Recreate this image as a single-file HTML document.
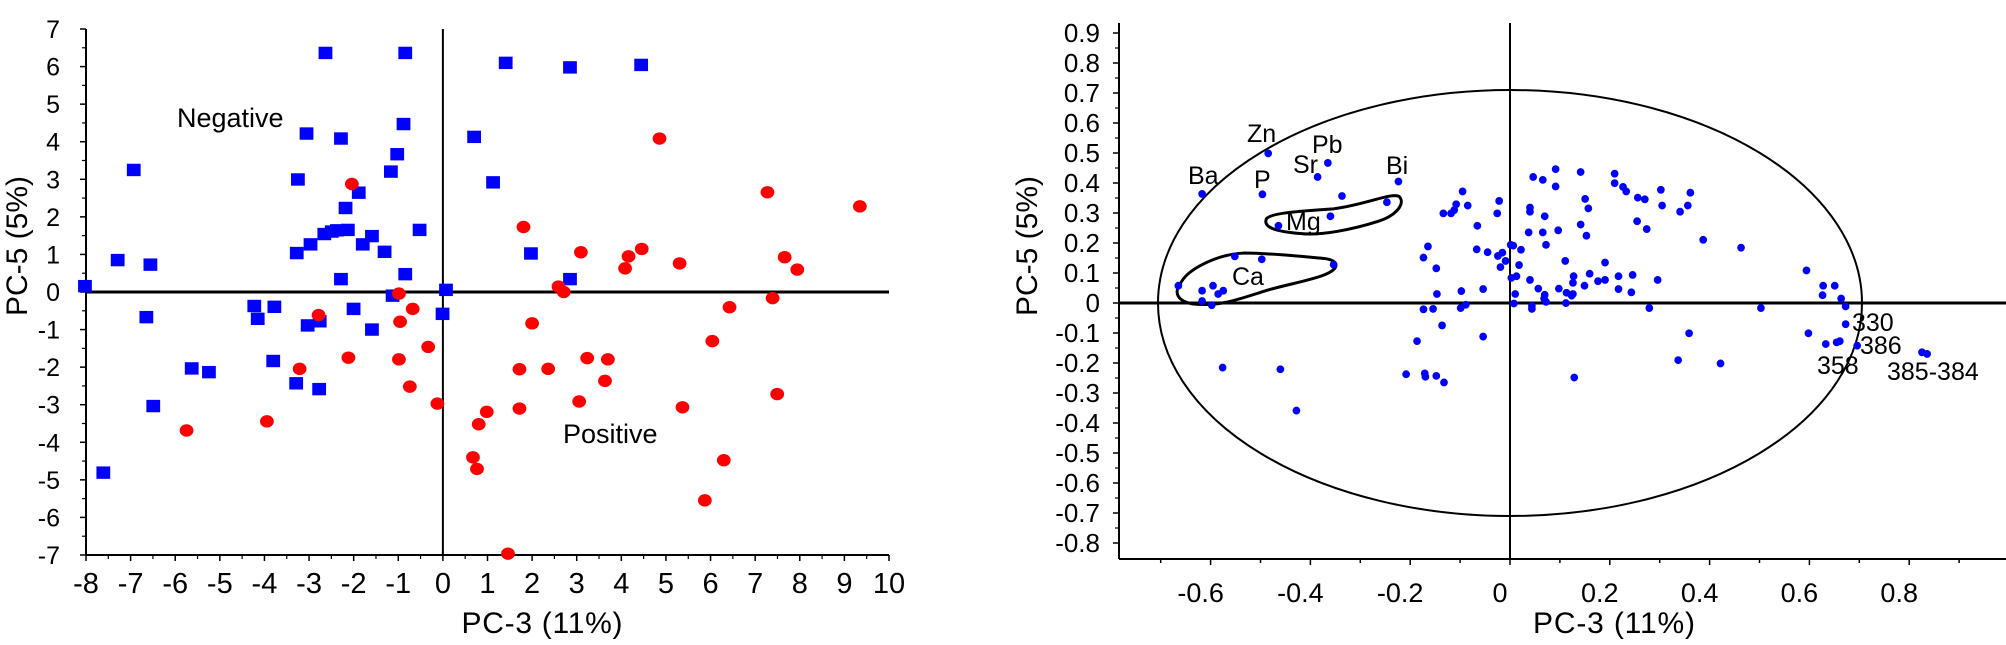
<!DOCTYPE html>
<html><head><meta charset="utf-8"><style>
html,body{margin:0;padding:0;background:#fff;}
svg{display:block;}
text{font-family:"Liberation Sans",sans-serif;fill:#000;}
</style></head><body>
<svg id="s" width="2006" height="645" xmlns="http://www.w3.org/2000/svg">
<g id="L"></g>
<g id="R"></g>
<g id="LP" transform="scale(0.574,0.4135)"></g>
<g id="RP" transform="translate(1000,0) scale(0.6416,0.4135)">
<path d="M415,530 C420,515 470,510 520,505 C570,495 610,465 622,475 C632,490 620,520 590,535 C550,555 500,570 470,565 C430,560 410,550 415,530Z" fill="none" stroke="#000" stroke-width="3" vector-effect="non-scaling-stroke"/>
<path d="M280,690 C290,650 340,615 380,612 C420,612 470,620 505,625 C530,630 530,650 505,665 C480,680 440,690 410,705 C370,725 340,742 300,735 C275,728 272,705 280,690Z" fill="none" stroke="#000" stroke-width="3" vector-effect="non-scaling-stroke"/>
</g>
<text x="177" y="127" font-size="27">Negative</text>
<text x="563" y="443" font-size="27">Positive</text>
<text x="542" y="633" font-size="30" text-anchor="middle" textLength="161">PC-3 (11%)</text>
<text transform="translate(27,246) rotate(-90)" font-size="30" text-anchor="middle">PC-5 (5%)</text>
<text x="1188" y="184" font-size="25">Ba</text>
<text x="1247" y="142" font-size="25">Zn</text>
<text x="1312" y="153" font-size="25">Pb</text>
<text x="1293" y="173" font-size="25">Sr</text>
<text x="1254" y="188" font-size="25">P</text>
<text x="1386" y="174" font-size="25">Bi</text>
<text x="1286" y="230" font-size="25">Mg</text>
<text x="1232" y="285" font-size="25">Ca</text>
<text x="1852" y="331" font-size="25">330</text>
<text x="1860" y="354" font-size="25">386</text>
<text x="1817" y="374" font-size="25">358</text>
<text x="1887" y="380" font-size="25">385-384</text>
<text x="1614" y="633" font-size="30" text-anchor="middle" textLength="162">PC-3 (11%)</text>
<text transform="translate(1037,246) rotate(-90)" font-size="30" text-anchor="middle">PC-5 (5%)</text>
<g id="T"></g>
</svg>
<script>
var NS="http://www.w3.org/2000/svg";
function el(p,t,a,txt){var e=document.createElementNS(NS,t);for(var k in a)e.setAttribute(k,a[k]);if(txt!==undefined)e.textContent=txt;document.getElementById(p).appendChild(e);return e;}
var lx0=86,lx1=889,ly0=29,ly1=555;
function LX(v){return lx0+(v+8)*(lx1-lx0)/18;}
function LY(v){return 292-v*37.57;}
el('L','line',{x1:lx0,y1:ly0,x2:lx0,y2:ly1,stroke:'#000','stroke-width':2});
el('L','line',{x1:lx0,y1:ly1,x2:lx1,y2:ly1,stroke:'#000','stroke-width':2});
el('L','line',{x1:lx0,y1:LY(0),x2:lx1,y2:LY(0),stroke:'#000','stroke-width':3});
el('L','line',{x1:LX(0),y1:ly0,x2:LX(0),y2:ly1,stroke:'#000','stroke-width':2});
for(var v=-7;v<=7;v++){el('L','line',{x1:lx0-6,y1:LY(v),x2:lx0,y2:LY(v),stroke:'#000','stroke-width':1.5});
 if(v<7)el('L','line',{x1:lx0-4,y1:LY(v+0.5),x2:lx0,y2:LY(v+0.5),stroke:'#000','stroke-width':1.2});
 el('T','text',{x:60,y:LY(v)+9,'font-size':25,'text-anchor':'end'},String(v));}
for(var v=-8;v<=10;v++){el('L','line',{x1:LX(v),y1:ly1,x2:LX(v),y2:ly1+6,stroke:'#000','stroke-width':1.5});
 if(v<10)el('L','line',{x1:LX(v+0.5),y1:ly1,x2:LX(v+0.5),y2:ly1+4,stroke:'#000','stroke-width':1.2});
 el('T','text',{x:LX(v),y:593,'font-size':29,'text-anchor':'middle'},String(v));}
var rx0=1119,rx1=2006,ry0=23,ry1=559;
function RX(v){return 1510+v*499;}
function RY(v){return 303-v*300;}
el('R','line',{x1:rx0,y1:ry0,x2:rx0,y2:ry1,stroke:'#000','stroke-width':2});
el('R','line',{x1:rx0,y1:ry1,x2:rx1,y2:ry1,stroke:'#000','stroke-width':2});
el('R','line',{x1:rx0,y1:RY(0),x2:rx1,y2:RY(0),stroke:'#000','stroke-width':3});
el('R','line',{x1:1510,y1:ry0,x2:1510,y2:ry1,stroke:'#000','stroke-width':2});
el('R','ellipse',{cx:1510,cy:303,rx:352,ry:213,fill:'none',stroke:'#000','stroke-width':2});
for(var i=-8;i<=9;i++){var v=i/10;el('R','line',{x1:rx0-6,y1:RY(v),x2:rx0,y2:RY(v),stroke:'#000','stroke-width':1.5});
 if(i<9)el('R','line',{x1:rx0-4,y1:RY(v+0.05),x2:rx0,y2:RY(v+0.05),stroke:'#000','stroke-width':1.2});
 el('T','text',{x:1100,y:RY(v)+9,'font-size':26,'text-anchor':'end'},i==0?'0':v.toFixed(1));}
for(var i=-7;i<=9;i++){var v=i/10;el('R','line',{x1:RX(v),y1:ry1,x2:RX(v),y2:ry1+(i%2==0?6:4),stroke:'#000','stroke-width':1.5});
 if(i%2==0&&i>=-6&&i<=8)el('T','text',{x:RX(v)-10,y:602,'font-size':27,'text-anchor':'middle'},i==0?'0':v.toFixed(1));}
var sq=[[567,128],[706,128],[881,152],[993,163],[1117,157],[703,300],[534,323],[594,335],[826,331],[692,373],[233,411],[681,415],[519,434],[859,441],[625,466],[602,503],[606,556],[587,557],[578,560],[565,566],[731,556],[541,591],[648,571],[632,591],[517,612],[670,609],[925,613],[205,629],[262,640],[706,663],[594,675],[993,675],[148,692],[777,701],[684,715],[443,740],[478,742],[616,747],[449,771],[557,777],[536,787],[255,767],[771,759],[648,797],[476,873],[334,891],[364,900],[516,927],[556,941],[267,982],[180,1143]];
sq.forEach(function(p){el('LP','rect',{x:p[0]-12,y:p[1]-15,width:24,height:30,fill:'#0000ff'});});
var rd=[[1149,335],[613,445],[1337,465],[1498,499],[912,549],[1012,610],[1118,602],[1095,620],[1184,637],[1367,622],[1089,649],[1389,652],[973,693],[982,706],[695,710],[1346,721],[719,747],[1271,743],[555,762],[697,778],[927,782],[1241,825],[746,839],[607,865],[695,869],[1023,866],[1059,869],[522,892],[905,893],[955,892],[1054,921],[714,935],[762,976],[1009,971],[1354,953],[905,988],[848,996],[1189,985],[465,1019],[325,1041],[834,1026],[824,1106],[831,1134],[1261,1113],[1228,1210],[885,1339]];
rd.forEach(function(p){el('LP','ellipse',{cx:p[0],cy:p[1],rx:12,ry:15,fill:'#ff0000'});});
var bd=[[315,469],[418,371],[409,470],[511,394],[495,428],[533,474],[621,439],[603,489],[515,523],[434,546],[366,620],[408,627],[520,640],[278,691],[315,703],[332,691],[348,703],[340,711],[315,728],[330,738],[347,889],[437,893],[462,993],
[866,409],[905,416],[958,420],[831,428],[846,435],[958,443],[866,451],[971,452],[976,463],[1030,459],[1076,466],[721,463],[778,486],[912,481],[1005,482],[994,478],[711,494],[729,497],[826,502],[826,512],[917,504],[1032,497],[1072,497],[1060,512],[691,516],[703,516],[708,508],[775,516],[849,523],[993,535],[744,546],[905,543],[1008,554],[824,562],[846,562],[870,557],[914,570],[1096,580],[1155,599],[667,596],[796,592],[800,594],[743,603],[760,610],[812,604],[851,592],[783,611],[776,619],[660,623],[788,631],[881,631],[943,635],[809,641],[780,646],[680,649],[919,662],[894,668],[964,668],[986,665],[797,672],[805,668],[1025,677],[943,677],[932,680],[826,677],[911,691],[893,684],[753,699],[719,704],[839,698],[871,698],[964,699],[984,707],[883,708],[893,711],[849,713],[803,711],[681,711],[891,715],[848,722],[851,730],[882,733],[801,734],[726,737],[829,740],[660,748],[675,747],[718,745],[829,747],[1012,745],[1186,745],[1257,654],[1283,691],[1301,691],[1282,714],[1311,722],[1318,741],[1318,784],[1260,806],[1287,832],[1304,828],[1309,825],[1336,836],[1437,852],[1445,856],[1074,806],[689,787],[753,814],[650,825],[1057,871],[1123,879],[633,905],[662,903],[663,911],[680,909],[692,925],[895,913]];
bd.forEach(function(p){el('RP','ellipse',{cx:p[0],cy:p[1],rx:6,ry:9.5,fill:'#0000ff'});});
</script>
</body></html>
